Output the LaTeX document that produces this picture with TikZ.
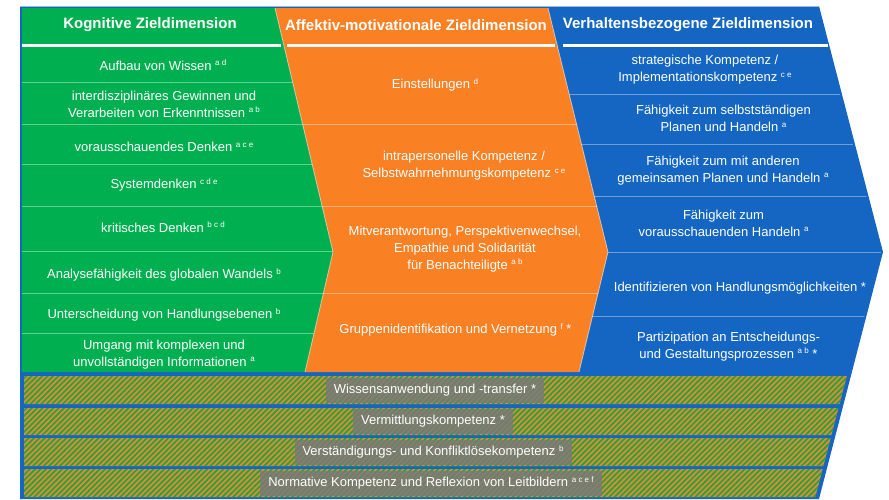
\documentclass[tikz,border=0pt]{standalone}
\usepackage{fontspec}
\setmainfont{Liberation Sans}
\usetikzlibrary{patterns.meta}
\definecolor{kgreen}{RGB}{0,176,80}
\definecolor{korange}{RGB}{250,128,36}
\definecolor{kblue}{RGB}{20,102,194}
\newcommand\hoch[1]{\raisebox{4.6pt}{\fontsize{8}{8}\selectfont #1}}
\begin{document}
\begin{tikzpicture}[x=1pt,y=-1pt,
  txt/.style={text=white,font=\fontsize{13}{17}\selectfont,align=center,inner sep=0pt},
  head/.style={text=white,font=\fontsize{15}{18}\selectfont\bfseries,inner sep=0pt},
  sepline/.style={draw=white,draw opacity=0.38,line width=0.9pt},
  edgeline/.style={draw=white,draw opacity=0.55,line width=0.8pt},
  headline/.style={draw=white,line width=2.2pt},
  hatchbar/.style={preaction={fill=korange},pattern={Lines[angle=45,distance=3.8pt,line width=1.7pt]},pattern color=kgreen},
  barlabel/.style={fill=gray!95!black,fill opacity=0.82,text opacity=1,text=white,font=\fontsize{13}{17}\selectfont,minimum height=25pt,inner xsep=8pt,inner ysep=0pt}
]
\useasboundingbox (0,0) rectangle (889,499);
% outer shape
\coordinate (TL) at (20,6);
\coordinate (TR) at (819,6);
\coordinate (AP) at (883,252);
\coordinate (BR) at (819,499);
\coordinate (BL) at (20,499);
\fill[kblue] (TL) -- (TR) -- (AP) -- (BR) -- (BL) -- cycle;
\draw[kblue!45!white,line width=0.8pt] (20,6.4) -- (819,6.4);
% column corners
\coordinate (G1) at (22,8);
\coordinate (G2) at (275,8);
\coordinate (G3) at (333,252);
\coordinate (G4) at (305,372);
\coordinate (G5) at (22,372);
\coordinate (O2) at (548,8);
\coordinate (O3) at (608,252);
\coordinate (O4) at (579,372);
\fill[kgreen] (G1) -- (G2) -- (G3) -- (G4) -- (G5) -- cycle;
\fill[korange] (G2) -- (O2) -- (O3) -- (O4) -- (G4) -- (G3) -- cycle;
% row separators
\begin{scope}
\clip (G1) -- (G2) -- (G3) -- (G4) -- (G5) -- cycle;
\foreach \yy in {82,124,164,206,251.5,293,333} \draw[sepline] (0,\yy) -- (900,\yy);
\end{scope}
\begin{scope}
\clip (G2) -- (O2) -- (O3) -- (O4) -- (G4) -- (G3) -- cycle;
\foreach \yy in {124,206,293} \draw[sepline] (0,\yy) -- (900,\yy);
\end{scope}
\begin{scope}
\clip (O2) -- (817,8) -- (881,252) -- (850,372) -- (O4) -- (O3) -- cycle;
\foreach \yy in {94,144,196,252,316} \draw[sepline] (0,\yy) -- (900,\yy);
\end{scope}
\draw[edgeline] (G2) -- (G3) -- (G4);
\draw[edgeline] (O2) -- (O3) -- (O4);
% header lines
\draw[headline] (22,45.5) -- (281,45.5);
\draw[headline] (287,45.5) -- (555,45.5);
\draw[headline] (563,45.5) -- (828,45.5);
% headers
\node[head] (h1) at (150,25) {Kognitive Zieldimension};
\node[head] (h2) at (416,25) {Affektiv-motivationale Zieldimension};
\node[head] (h3) at (688,25) {Verhaltensbezogene Zieldimension};
% green texts
\node[txt] (k1) at (163,65) {Aufbau von Wissen \hoch{a d}};
\node[txt] (k2) at (164,104) {interdisziplinäres Gewinnen und\\Verarbeiten von Erkenntnissen \hoch{a b}};
\node[txt] (k3) at (164,147) {vorausschauendes Denken \hoch{a c e}};
\node[txt] (k4) at (164,185) {Systemdenken \hoch{c d e}};
\node[txt] (k5) at (163,227) {kritisches Denken \hoch{b c d}};
\node[txt] (k6) at (164,275) {Analysefähigkeit des globalen Wandels \hoch{b}};
\node[txt] (k7) at (164,315) {Unterscheidung von Handlungsebenen \hoch{b}};
\node[txt] (k8) at (164,354.5) {Umgang mit komplexen und\\unvollständigen Informationen \hoch{a}};
% orange texts
\node[txt] (a1) at (435,85) {Einstellungen \hoch{d}};
\node[txt] (a2) at (464,166) {intrapersonelle Kompetenz /\\Selbstwahrnehmungskompetenz \hoch{c e}};
\node[txt] (a3) at (465,249) {Mitverantwortung, Perspektivenwechsel,\\Empathie und Solidarität\\für Benachteiligte \hoch{a b}};
\node[txt] (a4) at (455.5,330) {Gruppenidentifikation und Vernetzung \hoch{f} *};
% blue texts
\node[txt] (v1) at (705,70) {strategische Kompetenz /\\Implementationskompetenz \hoch{c e}};
\node[txt] (v2) at (723.5,118.5) {Fähigkeit zum selbstständigen\\Planen und Handeln \hoch{a}};
\node[txt] (v3) at (723,170.5) {Fähigkeit zum mit anderen\\gemeinsamen Planen und Handeln \hoch{a}};
\node[txt] (v4) at (723.5,223) {Fähigkeit zum\\vorausschauenden Handeln \hoch{a}};
\node[txt] (v5) at (740,288) {Identifizieren von Handlungsmöglichkeiten *};
\node[txt] (v6) at (728.5,346.5) {Partizipation an Entscheidungs-\\und Gestaltungsprozessen \hoch{a b} *};
% hatched bars
\fill[hatchbar] (24,376) -- (846.8,376) -- (839.5,404) -- (24,404) -- cycle;
\fill[hatchbar] (24,408) -- (838.4,408) -- (831.4,435) -- (24,435) -- cycle;
\fill[hatchbar] (24,438) -- (830.6,438) -- (823.4,466) -- (24,466) -- cycle;
\fill[hatchbar] (24,469) -- (822.6,469) -- (815.3,497) -- (24,497) -- cycle;
\node[barlabel] (b1) at (435,390) {Wissensanwendung und -transfer *};
\node[barlabel] (b2) at (433,421.5) {Vermittlungskompetenz *};
\node[barlabel] (b3) at (433,452) {Verständigungs- und Konfliktlösekompetenz \hoch{b}};
\node[barlabel] (b4) at (431,483) {Normative Kompetenz und Reflexion von Leitbildern \hoch{a c e f}};
\end{tikzpicture}
\end{document}
